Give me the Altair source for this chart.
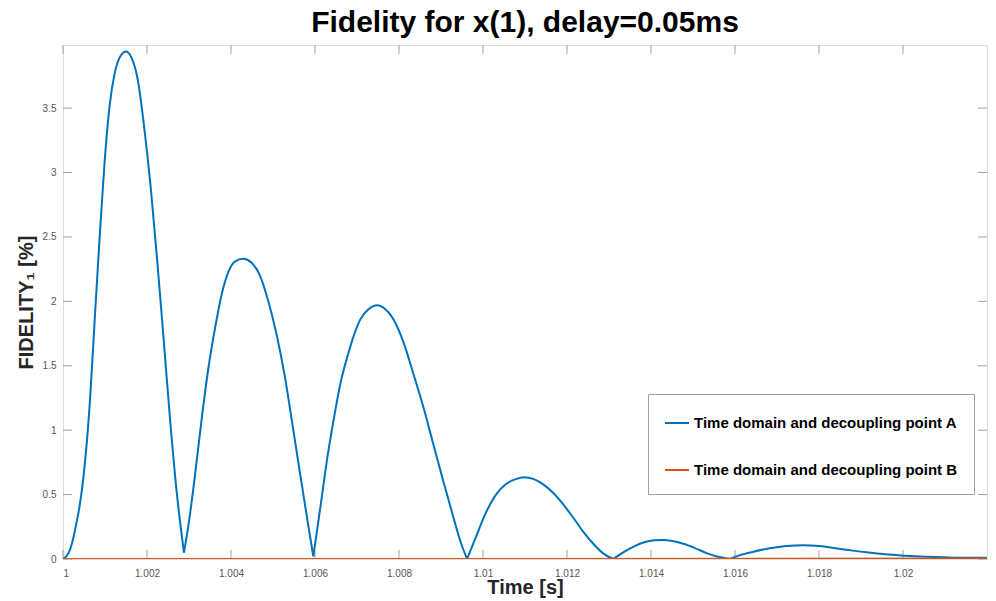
import altair as alt
import pandas as pd

# ---- data (time offset in ms after t = 1 s, fidelity in %) ----
ms_a = [0.00, 0.08, 0.165, 0.243, 0.32, 0.40, 0.52, 0.64, 0.755, 0.873, 0.99, 1.11, 1.23, 1.38, 1.50,
        1.62, 1.78, 1.93, 2.09, 2.25, 2.41, 2.56, 2.72, 2.88,
        2.995, 3.15, 3.31, 3.47, 3.63, 3.79, 3.94, 4.10, 4.29, 4.49, 4.69, 4.88, 5.08, 5.28, 5.47,
        5.67, 5.83, 5.96,
        6.14, 6.30, 6.46, 6.61, 6.77, 6.93, 7.08, 7.28, 7.48, 7.67, 7.87, 8.11, 8.34, 8.58, 8.81,
        9.05, 9.29, 9.48, 9.62,
        9.83, 10.07, 10.31, 10.54, 10.78, 10.97, 11.21, 11.45, 11.68, 11.92, 12.15, 12.39, 12.62,
        12.86, 13.10,
        13.37, 13.61, 13.84, 14.08, 14.28, 14.51, 14.79, 15.06, 15.34, 15.65, 15.88,
        16.12, 16.44, 16.83, 17.22, 17.62, 18.01, 18.40, 18.80, 19.19, 19.58, 20.05, 20.53,
        21.00, 21.47, 22.00]
fid_a = [0.00, 0.02, 0.07, 0.16, 0.28, 0.42, 0.74, 1.22, 1.86, 2.50, 3.08, 3.52, 3.77, 3.91, 3.94,
         3.90, 3.72, 3.36, 2.88, 2.29, 1.65, 1.04, 0.48, 0.05,
         0.28, 0.67, 1.11, 1.50, 1.81, 2.07, 2.23, 2.31, 2.33, 2.30, 2.20, 2.01, 1.75, 1.42, 1.03,
         0.61, 0.28, 0.02,
         0.43, 0.80, 1.11, 1.37, 1.57, 1.74, 1.86, 1.94, 1.97, 1.94, 1.86, 1.68, 1.44, 1.18, 0.90,
         0.61, 0.33, 0.12, 0.00,
         0.17, 0.36, 0.50, 0.58, 0.62, 0.635, 0.62, 0.575, 0.51, 0.42, 0.32, 0.21, 0.12,
         0.044, 0.00,
         0.057, 0.10, 0.13, 0.145, 0.148, 0.14, 0.117, 0.083, 0.044, 0.013, 0.00,
         0.03, 0.057, 0.083, 0.10, 0.107, 0.10, 0.083, 0.065, 0.05, 0.036, 0.026, 0.018,
         0.013, 0.01, 0.01]
# cusps (local minima) of curve A, where the arcs meet
cusp_ms = [2.88, 5.96, 9.62, 13.10, 15.88]

ms_b = [0.0, 11.0, 22.0]
fid_b = [0.0, 0.0, 0.004]

label_a = "Time domain and decoupling point A"
label_b = "Time domain and decoupling point B"

x_ticks = [1.0, 1.002, 1.004, 1.006, 1.008, 1.01, 1.012, 1.014, 1.016, 1.018, 1.02]
y_ticks = [0, 0.5, 1, 1.5, 2, 2.5, 3, 3.5]

x_domain = [1.0, 1.022]
y_domain = [0, 3.99]

W, H = 924, 514
FONT = "Liberation Sans"
BLUE, ORANGE = "#0072BD", "#D95319"
GREY = "#a0a0a0"

# split curve A into arcs at the cusps (cusp point shared by both neighbouring arcs)
rows = []
seg = 0
for m, f in zip(ms_a, fid_a):
    rows.append({"t": 1 + m / 1000, "f": f, "series": label_a, "seg": seg})
    if m in cusp_ms:
        seg += 1
        rows.append({"t": 1 + m / 1000, "f": f, "series": label_a, "seg": seg})
df_a = pd.DataFrame(rows)
df_b = pd.DataFrame({"t": [1 + m / 1000 for m in ms_b], "f": fid_b, "series": label_b, "seg": 0})
xt = pd.DataFrame({"t": x_ticks})
yt = pd.DataFrame({"v": y_ticks})

xs = alt.Scale(domain=x_domain, nice=False, zero=False)
ys = alt.Scale(domain=y_domain, nice=False, zero=False)
cs = alt.Scale(domain=[label_a, label_b], range=[BLUE, ORANGE])

x_axis = alt.Axis(
    values=x_ticks, format=".3~f", title="Time [s]", grid=False, domain=False,
    ticks=False, labelPadding=9, labelFontSize=10, labelColor="#555555", labelFont=FONT,
    titleFont=FONT, titleFontSize=20, titleFontWeight="bold", titleColor="#262626",
    titleBaseline="alphabetic", titleY=34)
y_axis = alt.Axis(
    values=y_ticks, format=".1~f", title="FIDELITY\u2081 [%]", grid=False, domain=False,
    ticks=False, labelPadding=7, labelFontSize=10, labelColor="#555555", labelFont=FONT,
    titleFont=FONT, titleFontSize=20, titleFontWeight="bold", titleColor="#262626",
    titlePadding=6)
legend = alt.Legend(
    title=None, orient="none", legendX=585, legendY=349,
    fillColor="white", strokeColor=GREY, padding=16, rowPadding=26,
    symbolType="stroke", symbolSize=576, symbolStrokeWidth=2,
    labelFont=FONT, labelFontSize=15, labelFontWeight="bold",
    labelColor="black", labelLimit=0, labelOffset=4)

line_a = alt.Chart(df_a).mark_line(strokeWidth=2, clip=True, interpolate="monotone").encode(
    x=alt.X("t:Q", scale=xs, axis=x_axis),
    y=alt.Y("f:Q", scale=ys, axis=y_axis),
    color=alt.Color("series:N", scale=cs, legend=legend),
    detail="seg:N",
)
line_b = alt.Chart(df_b).mark_line(strokeWidth=2, clip=True).encode(
    x=alt.X("t:Q", scale=xs),
    y=alt.Y("f:Q", scale=ys),
    color=alt.Color("series:N", scale=cs, legend=legend),
)

tick_bottom = alt.Chart(xt).mark_rule(color=GREY, strokeWidth=1).encode(
    x=alt.X("t:Q", scale=xs), y=alt.value(H), y2=alt.value(H - 9))
tick_top = alt.Chart(xt).mark_rule(color=GREY, strokeWidth=1).encode(
    x=alt.X("t:Q", scale=xs), y=alt.value(0), y2=alt.value(9))
tick_left = alt.Chart(yt).mark_rule(color=GREY, strokeWidth=1).encode(
    y=alt.Y("v:Q", scale=ys), x=alt.value(0), x2=alt.value(9))
tick_right = alt.Chart(yt).mark_rule(color=GREY, strokeWidth=1).encode(
    y=alt.Y("v:Q", scale=ys), x=alt.value(W), x2=alt.value(W - 9))

chart = alt.layer(tick_bottom, tick_top, tick_left, tick_right, line_a, line_b).properties(
    width=W, height=H,
    title=alt.TitleParams("Fidelity for x(1), delay=0.05ms", font=FONT, fontSize=30,
                          fontWeight="bold", color="black", anchor="middle", offset=7),
    autosize=alt.AutoSizeParams(type="none"),
    padding={"left": 55, "top": 37, "right": 1, "bottom": 42},
).configure_view(stroke=GREY, strokeWidth=1).configure(background="white")

chart.save("out.html", embed_options={"renderer": "svg", "actions": False})
